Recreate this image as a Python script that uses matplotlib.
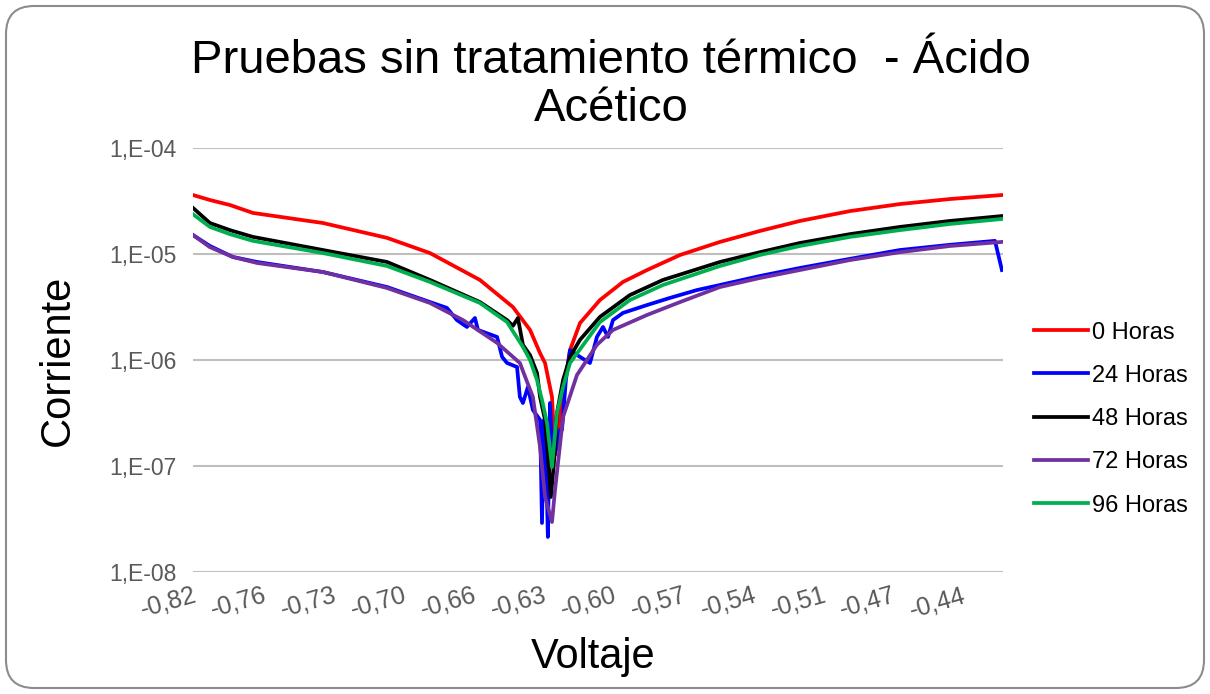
import numpy as np
import matplotlib
matplotlib.use('Agg')
import matplotlib.pyplot as plt
from matplotlib.patches import FancyBboxPatch

plt.rcParams['font.family'] = ['Liberation Sans', 'DejaVu Sans']

# Voltage (V) and current (A) for each series
v_0h = [-0.7913, -0.7835, -0.7743, -0.7637, -0.7314, -0.7019, -0.6821, -0.6591, -0.6439, -0.6360,
        -0.6314, -0.6291, -0.6259, -0.6245, -0.6236, -0.6222, -0.6176, -0.6130, -0.6038, -0.5932,
        -0.5821, -0.5669, -0.5485, -0.5301, -0.5117, -0.4886, -0.4656, -0.4426, -0.4186]
i_0h = [3.60e-5, 3.23e-5, 2.90e-5, 2.44e-5, 1.96e-5, 1.42e-5, 1.02e-5, 5.69e-6, 3.16e-6, 1.92e-6,
        1.16e-6, 9.37e-7, 4.48e-7, 1.27e-7, 1.76e-7, 3.16e-7, 1.24e-6, 2.23e-6, 3.68e-6, 5.45e-6,
        7.06e-6, 9.79e-6, 1.30e-5, 1.65e-5, 2.05e-5, 2.54e-5, 2.96e-5, 3.30e-5, 3.60e-5]

v_24h = [-0.7913, -0.7835, -0.7729, -0.7618, -0.7314, -0.7019, -0.6821, -0.6743, -0.6697, -0.6651,
         -0.6614, -0.6600, -0.6512, -0.6489, -0.6466, -0.6420, -0.6407, -0.6393, -0.6370, -0.6347,
         -0.6314, -0.6305, -0.6296, -0.6287, -0.6278, -0.6268, -0.6255, -0.6241, -0.6222, -0.6213,
         -0.6195, -0.6176, -0.6130, -0.6084, -0.6052, -0.6024, -0.6001, -0.5978, -0.5932, -0.5821,
         -0.5716, -0.5591, -0.5485, -0.5301, -0.5117, -0.4886, -0.4656, -0.4426, -0.4218, -0.4186]
i_24h = [1.51e-5, 1.19e-5, 9.37e-6, 8.41e-6, 6.76e-6, 4.88e-6, 3.52e-6, 3.10e-6, 2.38e-6, 2.05e-6,
         2.49e-6, 1.92e-6, 1.65e-6, 1.07e-6, 9.37e-7, 8.59e-7, 4.48e-7, 3.93e-7, 5.56e-7, 3.38e-7,
         2.72e-7, 2.90e-8, 2.72e-7, 1.42e-7, 2.14e-8, 3.93e-7, 1.14e-7, 1.42e-7, 2.19e-7, 2.19e-7,
         6.47e-7, 1.24e-6, 1.07e-6, 9.37e-7, 1.65e-6, 2.05e-6, 1.65e-6, 2.38e-6, 2.78e-6, 3.30e-6,
         3.85e-6, 4.57e-6, 5.10e-6, 6.20e-6, 7.38e-6, 9.00e-6, 1.09e-5, 1.22e-5, 1.33e-5, 7.06e-6]

v_48h = [-0.7913, -0.7835, -0.7743, -0.7637, -0.7314, -0.7019, -0.6821, -0.6591, -0.6466, -0.6439,
         -0.6416, -0.6393, -0.6360, -0.6328, -0.6314, -0.6291, -0.6278, -0.6264, -0.6250, -0.6236,
         -0.6208, -0.6176, -0.6130, -0.6038, -0.5900, -0.5748, -0.5485, -0.5301, -0.5117, -0.4886,
         -0.4656, -0.4426, -0.4186]
i_48h = [2.72e-5, 1.96e-5, 1.68e-5, 1.45e-5, 1.09e-5, 8.41e-6, 5.69e-6, 3.52e-6, 2.38e-6, 2.10e-6,
         2.49e-6, 1.39e-6, 1.11e-6, 7.54e-7, 4.48e-7, 2.72e-7, 1.27e-7, 5.10e-8, 1.07e-7, 3.16e-7,
         6.47e-7, 1.07e-6, 1.55e-6, 2.55e-6, 4.10e-6, 5.69e-6, 8.41e-6, 1.04e-5, 1.27e-5, 1.54e-5,
         1.80e-5, 2.05e-5, 2.28e-5]

v_72h = [-0.7913, -0.7835, -0.7729, -0.7618, -0.7314, -0.7019, -0.6821, -0.6669, -0.6512, -0.6407,
         -0.6347, -0.6314, -0.6291, -0.6259, -0.6245, -0.6208, -0.6144, -0.6052, -0.5978, -0.5821,
         -0.5669, -0.5485, -0.5301, -0.5117, -0.4886, -0.4656, -0.4426, -0.4186]
i_72h = [1.51e-5, 1.16e-5, 9.37e-6, 8.23e-6, 6.76e-6, 4.78e-6, 3.45e-6, 2.38e-6, 1.45e-6, 9.37e-7,
         4.48e-7, 1.51e-7, 5.10e-8, 2.96e-8, 5.94e-8, 2.90e-7, 7.21e-7, 1.39e-6, 1.92e-6, 2.66e-6,
         3.52e-6, 4.88e-6, 5.94e-6, 7.06e-6, 8.77e-6, 1.04e-5, 1.19e-5, 1.30e-5]

v_96h = [-0.7913, -0.7835, -0.7743, -0.7637, -0.7314, -0.7019, -0.6821, -0.6591, -0.6466, -0.6393,
         -0.6360, -0.6328, -0.6305, -0.6282, -0.6259, -0.6236, -0.6208, -0.6176, -0.6098, -0.6038,
         -0.5900, -0.5748, -0.5485, -0.5301, -0.5117, -0.4886, -0.4656, -0.4426, -0.4186]
i_96h = [2.37e-5, 1.80e-5, 1.54e-5, 1.33e-5, 1.02e-5, 7.71e-6, 5.45e-6, 3.45e-6, 2.28e-6, 1.33e-6,
         1.00e-6, 6.47e-7, 4.20e-7, 2.55e-7, 9.79e-8, 3.16e-7, 5.56e-7, 9.37e-7, 1.55e-6, 2.28e-6,
         3.68e-6, 5.10e-6, 7.71e-6, 9.79e-6, 1.19e-5, 1.45e-5, 1.68e-5, 1.92e-5, 2.14e-5]

series_names = ['0 Horas', '24 Horas', '48 Horas', '72 Horas', '96 Horas']
series_colors = ['#FF0000', '#0000FF', '#000000', '#7030A0', '#00B050']
x_tick_labels = ['-0,82', '-0,76', '-0,73', '-0,70', '-0,66', '-0,63',
                 '-0,60', '-0,57', '-0,54', '-0,51', '-0,47', '-0,44']
y_ticks = [1e-8, 1e-7, 1e-6, 1e-5, 1e-4]
y_tick_labels = ['1,E-08', '1,E-07', '1,E-06', '1,E-05', '1,E-04']

W, H = 1210, 694
fig = plt.figure(figsize=(W / 100, H / 100), dpi=100)

# rounded chart border (Excel style)
border = FancyBboxPatch((0.06, 0.06), W / 100 - 0.12, H / 100 - 0.12,
                        boxstyle='round,pad=0,rounding_size=0.28',
                        transform=fig.dpi_scale_trans, fill=False,
                        edgecolor='#8C8C8C', linewidth=1.5)
fig.patches.append(border)

ax = fig.add_axes([193 / W, 1 - 572 / H, (1003 - 193) / W, (572 - 148) / H])

data = [(v_0h, i_0h), (v_24h, i_24h), (v_48h, i_48h), (v_72h, i_72h), (v_96h, i_96h)]
for (v, cur), name, col in zip(data, series_names, series_colors):
    ax.plot(v, cur, color=col, lw=2.7, label=name, solid_joinstyle='round')

ax.set_yscale('log')
ax.set_ylim(1e-8, 1e-4)
ax.set_xlim(-0.7913, -0.4181)
ax.set_yticks(y_ticks)
ax.set_yticklabels(y_tick_labels)
ax.yaxis.set_minor_locator(matplotlib.ticker.NullLocator())
ax.grid(axis='y', color='#BFBFBF', lw=1.5)
ax.set_axisbelow(True)
for s in ax.spines.values():
    s.set_visible(False)
ax.tick_params(axis='both', length=0, labelsize=16.5, colors='#595959')
ax.tick_params(axis='y', pad=12)

x_ticks = -0.7913 + 0.0322 * np.arange(len(x_tick_labels))
ax.set_xticks(x_ticks)
ax.set_xticklabels(x_tick_labels, rotation=16, ha='right', va='top',
                   rotation_mode='anchor', fontsize=18)
ax.tick_params(axis='x', pad=8)

fig.text(0.505, 1 - 85 / H, 'Pruebas sin tratamiento térmico  - Ácido\nAcético',
         ha='center', va='center', fontsize=34, linespacing=1.12)
fig.text(58 / W, 1 - 360 / H, 'Corriente', rotation=90, ha='center', va='center', fontsize=30)
fig.text(593 / W, 1 - 657 / H, 'Voltaje', ha='center', va='center', fontsize=30)

ax.legend(loc='center left', bbox_to_anchor=(1025 / W, 1 - 419 / H),
          bbox_transform=fig.transFigure, frameon=False, fontsize=17,
          handlelength=2.25, handletextpad=0.2, labelspacing=0.9,
          borderaxespad=0)

fig.savefig('out.png', dpi=100)
